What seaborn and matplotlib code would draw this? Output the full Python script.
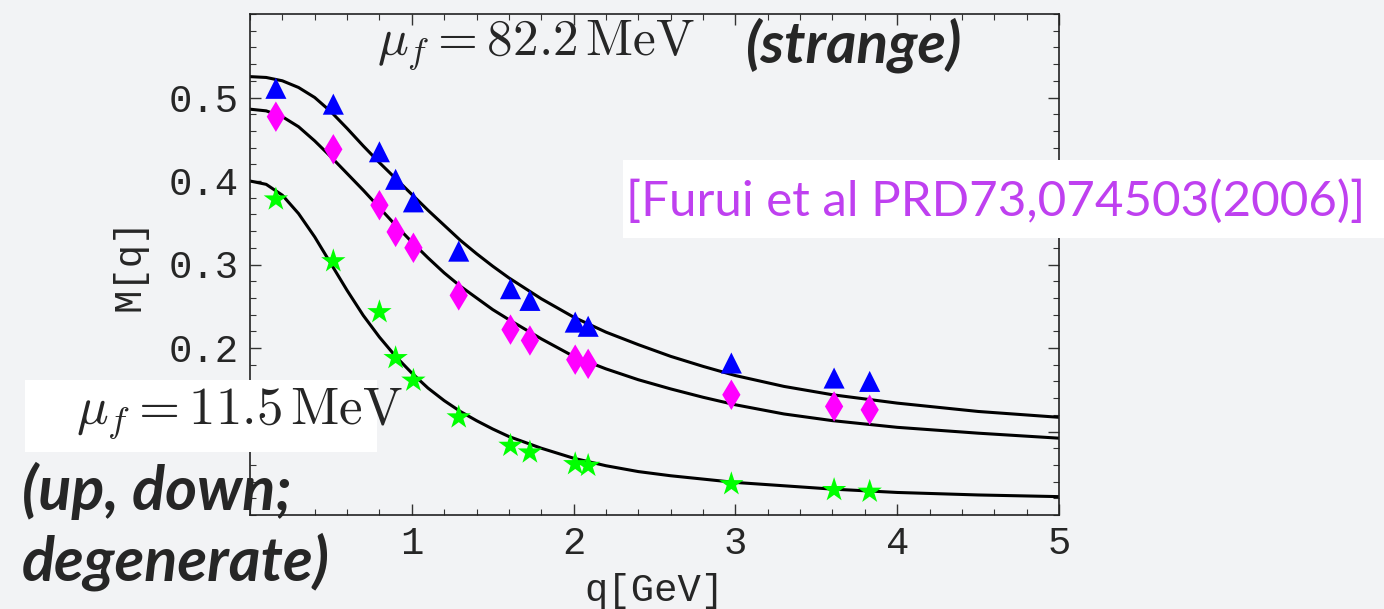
import numpy as np
import pandas as pd
import matplotlib
matplotlib.use("Agg")
import matplotlib.pyplot as plt
import seaborn as sns
from matplotlib.ticker import MultipleLocator, FixedLocator
from matplotlib.patches import Rectangle

# ---------------- data ----------------
q_lattice = [0.16, 0.515, 0.80, 0.90, 1.01, 1.29, 1.61, 1.73, 2.01, 2.09, 2.975, 3.61, 3.83]
M_strange = [0.511, 0.492, 0.435, 0.402, 0.375, 0.316, 0.271, 0.257, 0.231, 0.226, 0.182, 0.164, 0.160]
M_middle = [0.477, 0.438, 0.371, 0.339, 0.320, 0.263, 0.222, 0.209, 0.186, 0.181, 0.144, 0.130, 0.126]
M_light = [0.378, 0.304, 0.243, 0.188, 0.161, 0.117, 0.083, 0.075, 0.061, 0.059, 0.037, 0.030, 0.028]

q_fit = [0, 0.1, 0.2, 0.3, 0.4, 0.5, 0.6, 0.7, 0.8, 0.9, 1.0, 1.1, 1.2, 1.3, 1.4, 1.5,
         1.6, 1.8, 2.0, 2.2, 2.4, 2.6, 2.8, 3.0, 3.3, 3.6, 4.0, 4.5, 5.0]
fit_strange = [0.525, 0.524, 0.520, 0.512, 0.500, 0.483, 0.463, 0.442, 0.422, 0.403, 0.384,
               0.365, 0.347, 0.329, 0.313, 0.298, 0.284, 0.259, 0.237, 0.219, 0.204, 0.190,
               0.178, 0.167, 0.154, 0.144, 0.134, 0.124, 0.117]
fit_middle = [0.486, 0.484, 0.477, 0.465, 0.448, 0.429, 0.409, 0.389, 0.368, 0.347, 0.327,
              0.308, 0.290, 0.274, 0.260, 0.246, 0.234, 0.211, 0.190, 0.175, 0.162, 0.151,
              0.141, 0.132, 0.121, 0.113, 0.105, 0.098, 0.092]
fit_light = [0.400, 0.396, 0.383, 0.361, 0.333, 0.301, 0.269, 0.239, 0.213, 0.190, 0.170,
             0.152, 0.137, 0.124, 0.113, 0.103, 0.094, 0.080, 0.068, 0.059, 0.052, 0.047,
             0.043, 0.039, 0.035, 0.031, 0.027, 0.024, 0.022]

x_ticks = [1, 2, 3, 4, 5]
y_ticks = [0.1, 0.2, 0.3, 0.4, 0.5]
y_tick_labels = ["", "0.2", "0.3", "0.4", "0.5"]   # 0.1 is hidden behind the label box

# ---------------- build tables ----------------
series_names = ["strange", "middle", "light"]
pts = pd.DataFrame({
    "q": q_lattice * 3,
    "M": M_strange + M_middle + M_light,
    "series": [s for s in series_names for _ in q_lattice],
})
fits = pd.DataFrame({
    "q": q_fit * 3,
    "M": fit_strange + fit_middle + fit_light,
    "series": [s for s in series_names for _ in q_fit],
})

# ---------------- figure ----------------
sns.set_theme(style="ticks")
bg = "#f2f3f5"
mono = ["Liberation Mono", "DejaVu Sans Mono"]
sans = ["Lato", "DejaVu Sans"]
plt.rcParams["mathtext.fontset"] = "cm"

fig = plt.figure(figsize=(13.84, 6.09), dpi=100, facecolor=bg)
ax = fig.add_axes([250 / 1384, 1 - 515 / 609, (1059 - 250) / 1384, (515 - 14) / 609])
ax.set_facecolor(bg)

sns.lineplot(data=fits, x="q", y="M", units="series", estimator=None, sort=False,
             color="black", lw=2.2, ax=ax, legend=False)
sns.scatterplot(data=pts, x="q", y="M", hue="series", style="series", size="series",
                hue_order=series_names, style_order=series_names,
                palette={"strange": "#0000ff", "middle": "#ff00ff", "light": "#00ff00"},
                markers={"strange": "^", "middle": "d", "light": "*"},
                sizes={"strange": 230, "middle": 240, "light": 340},
                linewidth=0, ax=ax, legend=False, zorder=3)

ax.set_xlim(0, 5)
ax.set_ylim(0, 0.6)
ax.xaxis.set_major_locator(FixedLocator(x_ticks))
ax.yaxis.set_major_locator(FixedLocator(y_ticks))
ax.xaxis.set_minor_locator(MultipleLocator(0.2))
ax.yaxis.set_minor_locator(MultipleLocator(0.02))
ax.set_xticklabels([str(t) for t in x_ticks])
ax.set_yticklabels(y_tick_labels)
ax.tick_params(which="both", direction="in", top=True, right=True, color="#333333")
ax.tick_params(which="major", length=8, width=1.0, pad=8)
ax.tick_params(which="minor", length=4, width=0.8)
for lab in ax.get_xticklabels() + ax.get_yticklabels():
    lab.set_family(mono)
    lab.set_fontsize(28)
for sp in ax.spines.values():
    sp.set_color("#222222")
    sp.set_linewidth(1.2)

ax.set_xlabel("q[GeV]", family=mono, fontsize=28, labelpad=8)
ax.set_ylabel("M[q]", family=mono, fontsize=28, labelpad=15)

# ---------------- annotations ----------------
fig.text(536 / 1384, 1 - 46 / 609, r"$\mu_f = 82.2\,\mathrm{MeV}$", fontsize=37,
         ha="center", va="center")
fig.text(853 / 1384, 1 - 45 / 609, "(strange)", family=sans,
         fontweight="bold", fontstyle="italic", fontsize=42, ha="center", va="center")

fig.add_artist(Rectangle((623 / 1384, 1 - 238 / 609), (1384 - 623) / 1384, 78 / 609,
                         transform=fig.transFigure, facecolor="white", edgecolor="none",
                         zorder=5))
fig.text(996 / 1384, 1 - 201 / 609, "[Furui et al PRD73,074503(2006)]",
         family=sans, color="#bf40f0", fontsize=35.5,
         ha="center", va="center", zorder=6)

fig.add_artist(Rectangle((25 / 1384, 1 - 452 / 609), (377 - 25) / 1384, 72 / 609,
                         transform=fig.transFigure, facecolor="white", edgecolor="none",
                         zorder=5))
fig.text(239 / 1384, 1 - 414 / 609, r"$\mu_f = 11.5\,\mathrm{MeV}$", fontsize=38,
         ha="center", va="center", zorder=6)
fig.text(22 / 1384, 1 - 491 / 609, "(up, down;", family=sans,
         fontweight="bold", fontstyle="italic", fontsize=44, ha="left", va="center",
         zorder=6)
fig.text(22 / 1384, 1 - 562 / 609, "degenerate)", family=sans,
         fontweight="bold", fontstyle="italic", fontsize=44, ha="left", va="center",
         zorder=6)

fig.savefig("out.png", dpi=100, facecolor=bg)
